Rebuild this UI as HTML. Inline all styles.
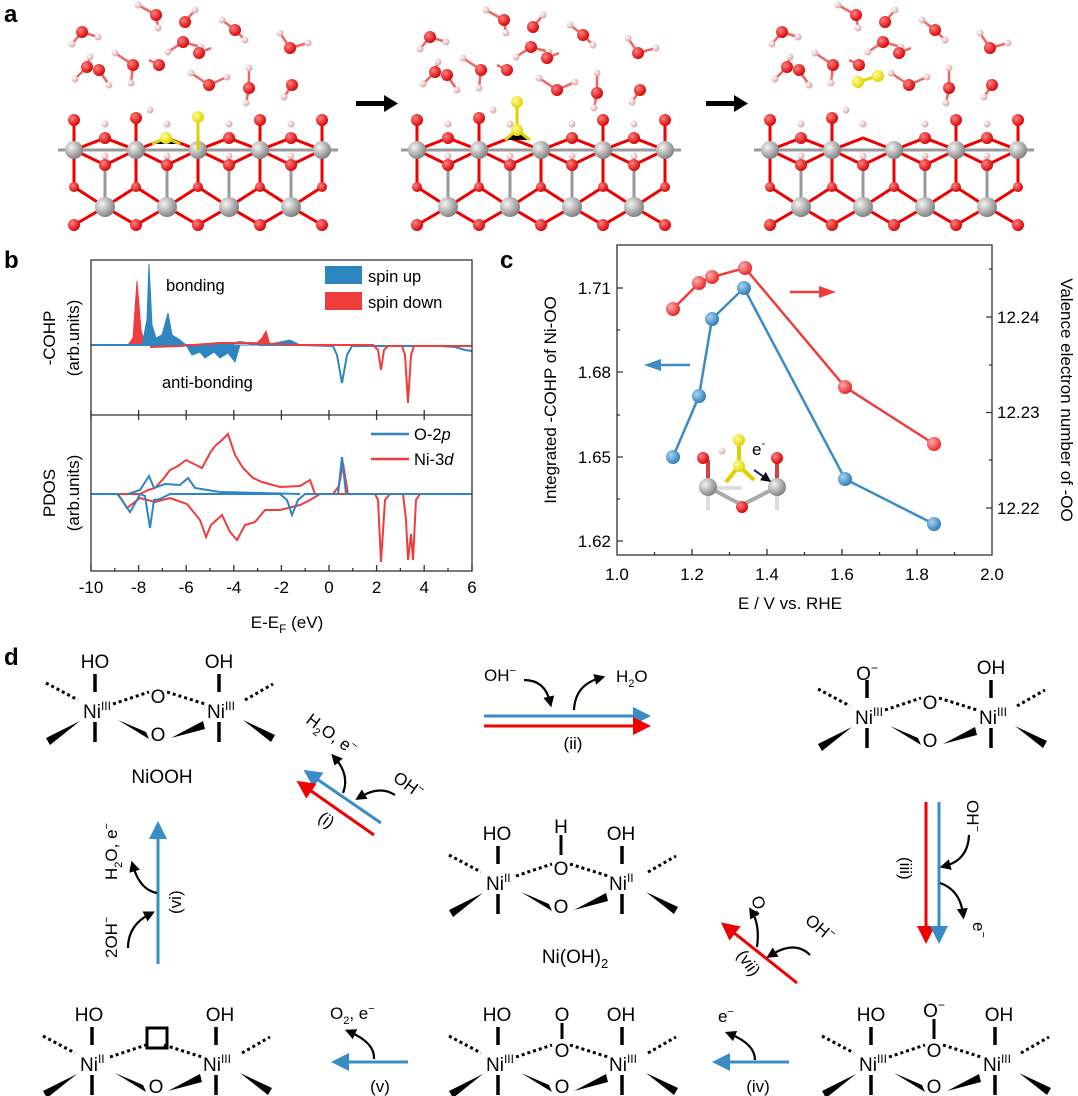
<!DOCTYPE html>
<html><head><meta charset="utf-8"><style>
html,body{margin:0;padding:0;background:#fff}
svg{display:block;font-family:"Liberation Sans",Arial,sans-serif}
</style></head><body>
<svg width="1078" height="1096" viewBox="0 0 1078 1096" xmlns="http://www.w3.org/2000/svg">
<defs>
<radialGradient id="gN" cx="35%" cy="35%" r="70%"><stop offset="0" stop-color="#f4f4f4"/><stop offset="1" stop-color="#7d7d7d"/></radialGradient>
<radialGradient id="gO" cx="35%" cy="35%" r="70%"><stop offset="0" stop-color="#ff8080"/><stop offset="1" stop-color="#d40000"/></radialGradient>
<radialGradient id="gH" cx="35%" cy="35%" r="70%"><stop offset="0" stop-color="#fff"/><stop offset="1" stop-color="#d9a0a0"/></radialGradient>
<radialGradient id="gY" cx="35%" cy="35%" r="70%"><stop offset="0" stop-color="#ffff90"/><stop offset="1" stop-color="#e0d000"/></radialGradient>
<radialGradient id="gB" cx="35%" cy="35%" r="70%"><stop offset="0" stop-color="#a8d4f0"/><stop offset="1" stop-color="#2a7ab8"/></radialGradient>
<radialGradient id="gR" cx="35%" cy="35%" r="70%"><stop offset="0" stop-color="#ffb0b0"/><stop offset="1" stop-color="#e82020"/></radialGradient>
<g id="slab">
 <g stroke="#999" stroke-width="3">
  <line x1="58" y1="150" x2="338" y2="150"/>
  <path d="M74 150 L105 165 L136 150 L167 165 L198 150 L229 165 L260 150 L291 165 L322 150" fill="none" stroke="#e00"/>
  <path d="M74 150 L105 138 L136 150 L167 138 L198 150 L229 138 L260 150 L291 138 L322 150" fill="none" stroke="#e00"/>
  <path d="M74 187 L105 207 L136 187 L167 207 L198 187 L229 207 L260 187 L291 207 L322 187" fill="none" stroke="#e00"/>
  <path d="M74 225 L105 207 L136 225 L167 207 L198 225 L229 207 L260 225 L291 207 L322 225" fill="none" stroke="#e00"/>
  <path d="M74 150 V187 M136 150 V187 M198 150 V187 M260 150 V187 M322 150 V187" stroke="#e00"/>
  <path d="M105 165 V207 M167 165 V207 M229 165 V207 M291 165 V207"/>
  <path d="M74 150 V120 M136 150 V120 M260 150 V120 M322 150 V120" stroke="#e00"/>
 </g>
 <g fill="url(#gH)"><circle cx="105" cy="124" r="3.5"/><circle cx="167" cy="124" r="3.5"/><circle cx="229" cy="124" r="3.5"/><circle cx="291" cy="124" r="3.5"/><circle cx="105" cy="156" r="3.5"/><circle cx="167" cy="156" r="3.5"/><circle cx="229" cy="156" r="3.5"/><circle cx="291" cy="156" r="3.5"/></g>
 <g fill="url(#gO)"><circle cx="74" cy="120" r="6"/><circle cx="136" cy="118" r="6"/><circle cx="260" cy="120" r="6"/><circle cx="322" cy="120" r="6"/>
  <circle cx="105" cy="138" r="6"/><circle cx="229" cy="138" r="6"/><circle cx="291" cy="138" r="6"/>
  <circle cx="105" cy="165" r="6"/><circle cx="167" cy="165" r="6"/><circle cx="229" cy="165" r="6"/><circle cx="291" cy="165" r="6"/>
  <circle cx="74" cy="187" r="5"/><circle cx="136" cy="187" r="5"/><circle cx="198" cy="187" r="5"/><circle cx="260" cy="187" r="5"/><circle cx="322" cy="187" r="5"/>
  <circle cx="74" cy="225" r="6"/><circle cx="136" cy="225" r="6"/><circle cx="198" cy="225" r="6"/><circle cx="260" cy="225" r="6"/><circle cx="322" cy="225" r="6"/></g>
 <g fill="url(#gN)"><circle cx="74" cy="150" r="9"/><circle cx="136" cy="150" r="9"/><circle cx="198" cy="150" r="9"/><circle cx="260" cy="150" r="9"/><circle cx="322" cy="150" r="9"/>
  <circle cx="105" cy="207" r="10"/><circle cx="167" cy="207" r="10"/><circle cx="229" cy="207" r="10"/><circle cx="291" cy="207" r="10"/></g>
 <circle cx="150" cy="110" r="3.5" fill="url(#gH)"/>
</g>
<g id="water">
 <g stroke="#e66" stroke-width="2.5">
  <path d="M82 32 l-10 12 M82 32 l16 5 M156 15 l-18 -10 M156 15 l2 13 M185 22 l10 -12 M183 42 l-15 10 M183 42 l18 5 M199 53 l12 -5 M235 30 l-13 -10 M235 30 l10 10 M290 48 l-10 -15 M290 48 l18 -5 M87 67 l-12 12 M87 67 l3 -10 M99 70 l10 15 M133 65 l-18 -12 M133 65 l-2 18 M159 65 l-10 -5 M209 85 l-18 -12 M209 85 l18 -8 M249 88 l-3 15 M249 88 l0 -20 M292 85 l-8 12"/>
 </g>
 <g fill="url(#gH)"><circle cx="72" cy="44" r="3.5"/><circle cx="98" cy="37" r="3.5"/><circle cx="138" cy="5" r="3.5"/><circle cx="158" cy="28" r="3.5"/><circle cx="195" cy="10" r="3.5"/><circle cx="168" cy="52" r="3.5"/><circle cx="201" cy="47" r="3.5"/><circle cx="222" cy="20" r="3.5"/><circle cx="245" cy="40" r="3.5"/><circle cx="280" cy="33" r="3.5"/><circle cx="308" cy="43" r="3.5"/><circle cx="75" cy="79" r="3.5"/><circle cx="90" cy="57" r="3.5"/><circle cx="109" cy="85" r="3.5"/><circle cx="115" cy="53" r="3.5"/><circle cx="131" cy="83" r="3.5"/><circle cx="191" cy="73" r="3.5"/><circle cx="227" cy="77" r="3.5"/><circle cx="246" cy="103" r="3.5"/><circle cx="249" cy="68" r="3.5"/><circle cx="284" cy="97" r="3.5"/></g>
 <g fill="url(#gO)"><circle cx="82" cy="32" r="6"/><circle cx="156" cy="15" r="6"/><circle cx="185" cy="22" r="6"/><circle cx="183" cy="42" r="6"/><circle cx="199" cy="53" r="6"/><circle cx="235" cy="30" r="6"/><circle cx="290" cy="48" r="6"/><circle cx="87" cy="67" r="6"/><circle cx="99" cy="70" r="6"/><circle cx="133" cy="65" r="6"/><circle cx="159" cy="65" r="6"/><circle cx="209" cy="85" r="6"/><circle cx="249" cy="88" r="6"/><circle cx="292" cy="85" r="6"/></g>
</g>
<g id="dim" fill="#000" stroke="#000">
 <path d="M12 -44 V-26 M12 4 V24 M136 -44 V-26 M136 4 V24" stroke-width="3.5" fill="none"/>
 <path d="M-37 -35 L-5 -18 M30 -14 L66 -26 M84 -26 L122 -14 M162 -18 L190 -34" stroke-width="3" stroke-dasharray="3 3" fill="none"/>
 <path d="M-3 3 L-37 20 L-33 27 Z M35 2 L63 14 L66 21 Z M88 20 L120 3 L122 11 Z M160 2 L192 17 L188 24 Z" stroke="none"/>
</g>
<marker id="aB" markerWidth="6" markerHeight="6" refX="3" refY="3" orient="auto" markerUnits="strokeWidth"><path d="M0 0 L6 3 L0 6 Z" fill="#3a8cc4"/></marker>
<marker id="aR" markerWidth="6" markerHeight="6" refX="3" refY="3" orient="auto" markerUnits="strokeWidth"><path d="M0 0 L6 3 L0 6 Z" fill="#f20000"/></marker>
<marker id="aK" markerWidth="5" markerHeight="5" refX="2.5" refY="2.5" orient="auto" markerUnits="strokeWidth"><path d="M0 0 L5 2.5 L0 5 Z" fill="#000"/></marker>
</defs>

<!-- panel a -->
<text x="4" y="22" font-size="24" font-weight="bold">a</text>
<use href="#slab"/><use href="#water"/>
<use href="#slab" x="343"/><use href="#water" x="348" y="5"/>
<use href="#slab" x="696"/><use href="#water" x="700" y="0"/>
<g stroke="#e0d000" stroke-width="3"><path d="M152 144 L166 138 L180 144 M198 150 V118"/><path d="M505 140 L517 130 L530 140 M517 130 V102"/><path d="M858 82 L878 76"/></g>
<g fill="url(#gY)"><circle cx="166" cy="138" r="6"/><circle cx="198" cy="117" r="6"/><circle cx="517" cy="130" r="6"/><circle cx="517" cy="102" r="6"/><circle cx="858" cy="82" r="6"/><circle cx="878" cy="76" r="6"/></g>
<g fill="#000"><rect x="356" y="101" width="30" height="5"/><path d="M384 95 L398 103.5 L384 112 Z"/><rect x="706" y="101" width="30" height="5"/><path d="M734 95 L748 103.5 L734 112 Z"/></g>

<!-- panel b -->
<text x="4" y="268" font-size="24" font-weight="bold">b</text>
<g font-size="16.5">
<text x="166" y="291">bonding</text>
<text x="162" y="388">anti-bonding</text>
<rect x="325" y="266" width="37" height="18" fill="#2e86c1"/><text x="368" y="282">spin up</text>
<rect x="325" y="292" width="37" height="18" fill="#f03c3c"/><text x="368" y="308">spin down</text>
<line x1="371" y1="434" x2="409" y2="434" stroke="#2e86c1" stroke-width="2.5"/><text x="414" y="440">O-2<tspan font-style="italic">p</tspan></text>
<line x1="371" y1="459" x2="409" y2="459" stroke="#f03c3c" stroke-width="2.5"/><text x="414" y="465">Ni-3<tspan font-style="italic">d</tspan></text>
</g>
<path d="M91 345 H128 L133 338 L137 281 L141 330 L145 345 Z" fill="#f03c3c" stroke="#f03c3c"/>
<path d="M142 345 L147 320 L149 264 L152 325 L156 338 L162 335 L168 313 L172 335 L180 340 L186 345 L192 355 L200 352 L205 358 L214 352 L220 358 L228 353 L235 362 L240 345 L262 345 L270 344 L290 340 L300 345 Z" fill="#2e86c1" stroke="#2e86c1"/>
<path d="M255 345 L262 338 L266 331 L270 345 Z" fill="#f03c3c" stroke="#f03c3c"/>
<path d="M91 345 H225 L240 342 L260 345 L300 345 L333 346 L337 355 L342 383 L347 355 L352 346 H440 L455 347 L465 350 L472 351" fill="none" stroke="#2e86c1" stroke-width="2"/>
<path d="M150 347 L180 346 L220 343 L250 343 L300 345 H373 L378 350 L381 370 L384 350 L388 346 H402 L405 355 L408 403 L411 355 L414 346 H472" fill="none" stroke="#f03c3c" stroke-width="2"/>
<path d="M91 494 H140 L148 490 L155 488 L164 478 L170 470 L178 466 L186 460 L194 464 L202 468 L210 453 L215 446 L222 440 L228 434 L230 440 L235 455 L243 468 L253 478 L262 482 L280 487 L300 486 L310 480 L315 494 H333 L339 486 L343 463 L348 494 H472" fill="none" stroke="#f03c3c" stroke-width="2"/>
<path d="M91 494 H117 L122 500 L127 508 L140 498 L155 502 L170 498 L187 504 L200 520 L206 537 L211 525 L222 515 L230 532 L237 540 L245 525 L255 522 L265 510 L280 510 L300 505 L310 500 L320 494 H375 L378 500 L381 562 L385 500 L390 494 H403 L406 520 L408 560 L411 534 L413 560 L416 500 L420 494 H472" fill="none" stroke="#f03c3c" stroke-width="2"/>
<path d="M91 494 H118 L125 505 L130 512 L137 500 L140 494 L145 496 L150 528 L154 500 L160 499 L170 494 L200 494 L280 494 L287 500 L292 515 L298 500 L305 494 H330 L338 494 L342 457 L346 494 H472" fill="none" stroke="#2e86c1" stroke-width="2"/>
<path d="M128 494 L140 490 L149 476 L154 488 L165 484 L180 485 L188 478 L195 488 L220 492 L300 494" fill="none" stroke="#2e86c1" stroke-width="2"/>
<g stroke="#333" stroke-width="1.3" fill="none"><rect x="91" y="260" width="381" height="311"/><line x1="91" y1="415" x2="472" y2="415"/></g>
<g stroke="#333" stroke-width="1.3">
<path d="M91 571 v-6 M138.6 571 v-6 M186.2 571 v-6 M233.8 571 v-6 M281.4 571 v-6 M329 571 v-6 M376.6 571 v-6 M424.2 571 v-6 M472 571 v-6"/>
<path d="M114.8 571 v-3 M162.4 571 v-3 M210 571 v-3 M257.6 571 v-3 M305.2 571 v-3 M352.8 571 v-3 M400.4 571 v-3 M448 571 v-3"/>
<path d="M91 415 v-5 M138.6 415 v-5 M186.2 415 v-5 M233.8 415 v-5 M281.4 415 v-5 M329 415 v-5 M376.6 415 v-5 M424.2 415 v-5 M91 415 v5 M138.6 415 v5 M186.2 415 v5 M233.8 415 v5 M281.4 415 v5 M329 415 v5 M376.6 415 v5 M424.2 415 v5"/>
</g>
<g font-size="17" text-anchor="middle">
<text x="91" y="593">-10</text><text x="138.6" y="593">-8</text><text x="186.2" y="593">-6</text><text x="233.8" y="593">-4</text><text x="281.4" y="593">-2</text><text x="329" y="593">0</text><text x="376.6" y="593">2</text><text x="424.2" y="593">4</text><text x="472" y="593">6</text>
<text x="287" y="628">E-E<tspan font-size="12" dy="5">F</tspan><tspan dy="-5"> (eV)</tspan></text>
<text transform="translate(55,338) rotate(-90)">-COHP</text>
<text transform="translate(79,338) rotate(-90)">(arb.units)</text>
<text transform="translate(55,493) rotate(-90)">PDOS</text>
<text transform="translate(79,493) rotate(-90)">(arb.units)</text>
</g>

<!-- panel c -->
<text x="500" y="268" font-size="24" font-weight="bold">c</text>
<rect x="617" y="245" width="375" height="310" fill="none" stroke="#333" stroke-width="1.3"/>
<g stroke="#333" stroke-width="1.3">
<path d="M617 288 h6 M617 372 h6 M617 457 h6 M617 541 h6 M617 330 h3 M617 415 h3 M617 499 h3"/>
<path d="M992 317 h-6 M992 412.5 h-6 M992 508 h-6 M992 269 h-3 M992 365 h-3 M992 460 h-3"/>
<path d="M692 555 v-6 M767 555 v-6 M842 555 v-6 M917 555 v-6 M654.5 555 v-3 M729.5 555 v-3 M804.5 555 v-3 M879.5 555 v-3 M954.5 555 v-3"/>
</g>
<g font-size="17">
<g text-anchor="end"><text x="611" y="294">1.71</text><text x="611" y="378">1.68</text><text x="611" y="463">1.65</text><text x="611" y="547">1.62</text></g>
<text x="997" y="323">12.24</text><text x="997" y="418">12.23</text><text x="997" y="514">12.22</text>
<g text-anchor="middle"><text x="617" y="580">1.0</text><text x="692" y="580">1.2</text><text x="767" y="580">1.4</text><text x="842" y="580">1.6</text><text x="917" y="580">1.8</text><text x="992" y="580">2.0</text>
<text x="790" y="609">E / V vs. RHE</text>
<text transform="translate(556,400) rotate(-90)">Integrated -COHP of Ni-OO</text>
<text transform="translate(1061,400) rotate(90)">Valence electron number of -OO</text></g>
</g>
<g stroke-width="4" fill="none"><path d="M704 488 L742 488" stroke="#ddd"/><path d="M708 487 L742 505 L777 487" stroke="#aaa"/><path d="M708 487 V460 M777 487 V458" stroke="#c44"/><path d="M739 466 L726 482 M739 466 L754 480 M739 440 V466" stroke="#e0d000"/><path d="M708 487 V510 M777 487 V510" stroke="#ddd"/></g>
<g fill="url(#gN)"><circle cx="708" cy="487" r="9"/><circle cx="777" cy="487" r="9"/></g>
<g fill="url(#gO)"><circle cx="703" cy="458" r="6"/><circle cx="777" cy="458" r="6"/><circle cx="742" cy="507" r="6"/></g>
<circle cx="722" cy="451" r="3.5" fill="url(#gH)"/>
<g fill="url(#gY)"><circle cx="739" cy="440" r="6"/><circle cx="739" cy="466" r="6"/></g>
<text x="752" y="455" font-size="17">e<tspan font-size="11" dy="-8">-</tspan></text>
<path d="M754 470 L767 479" stroke="#1a2a4a" stroke-width="2" marker-end="url(#aK)"/>
<polyline points="673,457 699,396 712,319 744,288 845,479 934,524" fill="none" stroke="#3a8cc4" stroke-width="2.5"/>
<polyline points="673,309 699,283 712,277 745,268 845,387 934,444" fill="none" stroke="#f03c3c" stroke-width="2.5"/>
<g fill="url(#gB)"><circle cx="673" cy="457" r="7"/><circle cx="699" cy="396" r="7"/><circle cx="712" cy="319" r="7"/><circle cx="744" cy="288" r="7"/><circle cx="845" cy="479" r="7"/><circle cx="934" cy="524" r="7"/></g>
<g fill="url(#gR)"><circle cx="673" cy="309" r="7"/><circle cx="699" cy="283" r="7"/><circle cx="712" cy="277" r="7"/><circle cx="745" cy="268" r="7"/><circle cx="845" cy="387" r="7"/><circle cx="934" cy="444" r="7"/></g>
<path d="M790 292 H825" stroke="#f03c3c" stroke-width="2.5"/><path d="M819 286 L836 292 L819 298 Z" fill="#f03c3c"/>
<path d="M690 365 H655" stroke="#3a8cc4" stroke-width="2.5"/><path d="M661 359 L644 365 L661 371 Z" fill="#3a8cc4"/>

<!-- panel d -->
<text x="4" y="665" font-size="24" font-weight="bold">d</text>
<use href="#dim" x="83" y="718"/>
<use href="#dim" x="855" y="724"/>
<use href="#dim" x="486" y="890"/>
<use href="#dim" x="80" y="1071"/>
<use href="#dim" x="486" y="1071"/>
<use href="#dim" x="859" y="1071"/>
<g font-size="19">
<text x="83" y="718">Ni<tspan font-size="12" dy="-8">III</tspan></text><text x="207" y="718">Ni<tspan font-size="12" dy="-8">III</tspan></text>
<text x="95" y="668" text-anchor="middle">HO</text><text x="219" y="668" text-anchor="middle">OH</text>
<text x="158" y="703" text-anchor="middle">O</text><text x="158" y="741" text-anchor="middle">O</text>
<text x="162" y="783" text-anchor="middle">NiOOH</text>
<text x="855" y="724">Ni<tspan font-size="12" dy="-8">III</tspan></text><text x="979" y="724">Ni<tspan font-size="12" dy="-8">III</tspan></text>
<text x="867" y="680" text-anchor="middle">O<tspan font-size="12" dy="-8">−</tspan></text><text x="991" y="674" text-anchor="middle">OH</text>
<text x="930" y="709" text-anchor="middle">O</text><text x="930" y="747" text-anchor="middle">O</text>
<text x="486" y="890">Ni<tspan font-size="12" dy="-8">II</tspan></text><text x="609" y="890">Ni<tspan font-size="12" dy="-8">II</tspan></text>
<text x="497" y="840" text-anchor="middle">HO</text><text x="621" y="840" text-anchor="middle">OH</text>
<text x="561" y="875" text-anchor="middle">O</text><text x="561" y="913" text-anchor="middle">O</text>
<text x="561" y="833" text-anchor="middle">H</text>
<path d="M561 835 V855" stroke="#000" stroke-width="3"/>
<text x="575" y="963" text-anchor="middle">Ni(OH)<tspan font-size="13" dy="5">2</tspan></text>
<text x="80" y="1071">Ni<tspan font-size="12" dy="-8">II</tspan></text><text x="203" y="1071">Ni<tspan font-size="12" dy="-8">III</tspan></text>
<text x="89" y="1021" text-anchor="middle">HO</text><text x="220" y="1021" text-anchor="middle">OH</text>
<text x="156" y="1093" text-anchor="middle">O</text>
<rect x="147" y="1028" width="20" height="20" fill="none" stroke="#000" stroke-width="3"/>
<text x="486" y="1071">Ni<tspan font-size="12" dy="-8">III</tspan></text><text x="609" y="1071">Ni<tspan font-size="12" dy="-8">III</tspan></text>
<text x="497" y="1021" text-anchor="middle">HO</text><text x="621" y="1021" text-anchor="middle">OH</text>
<text x="562" y="1057" text-anchor="middle">O</text><text x="562" y="1093" text-anchor="middle">O</text>
<text x="562" y="1021" text-anchor="middle">O</text>
<path d="M562 1023 V1039" stroke="#000" stroke-width="3"/>
<text x="859" y="1071">Ni<tspan font-size="12" dy="-8">III</tspan></text><text x="983" y="1071">Ni<tspan font-size="12" dy="-8">III</tspan></text>
<text x="871" y="1021" text-anchor="middle">HO</text><text x="999" y="1021" text-anchor="middle">OH</text>
<text x="934" y="1057" text-anchor="middle">O</text><text x="934" y="1093" text-anchor="middle">O</text>
<text x="934" y="1017" text-anchor="middle">O<tspan font-size="12" dy="-8">−</tspan></text>
<path d="M934 1019 V1039" stroke="#000" stroke-width="3"/>
</g>
<g stroke-width="3" fill="none">
<path d="M484 716 H642" stroke="#3a8cc4" marker-end="url(#aB)"/>
<path d="M484 726 H642" stroke="#f20000" marker-end="url(#aR)"/>
<path d="M381 823 L311 775" stroke="#3a8cc4" marker-end="url(#aB)"/>
<path d="M374 835 L304 786" stroke="#f20000" marker-end="url(#aR)"/>
<path d="M158 964 V830" stroke="#3a8cc4" marker-end="url(#aB)"/>
<path d="M926 802 V935" stroke="#f20000" marker-end="url(#aR)"/>
<path d="M939 802 V935" stroke="#3a8cc4" marker-end="url(#aB)"/>
<path d="M797 983 L728 928" stroke="#f20000" marker-end="url(#aR)"/>
<path d="M408 1062 H340" stroke="#3a8cc4" marker-end="url(#aB)"/>
<path d="M789 1062 H721" stroke="#3a8cc4" marker-end="url(#aB)"/>
</g>
<g stroke="#000" stroke-width="2.2" fill="none">
<path d="M524 680 Q545 680 550 702" marker-end="url(#aK)"/>
<path d="M574 710 Q575 685 600 678" marker-end="url(#aK)"/>
<path d="M343 793 Q350 775 335 758" marker-end="url(#aK)"/>
<path d="M395 795 Q380 785 360 797" marker-end="url(#aK)"/>
<path d="M157 893 Q140 890 133 866" marker-end="url(#aK)"/>
<path d="M128 948 Q128 925 150 914" marker-end="url(#aK)"/>
<path d="M969 835 Q968 860 945 866" marker-end="url(#aK)"/>
<path d="M940 883 Q960 890 963 914" marker-end="url(#aK)"/>
<path d="M757 947 Q760 925 752 912" marker-end="url(#aK)"/>
<path d="M810 955 Q795 940 771 955" marker-end="url(#aK)"/>
<path d="M374 1059 Q375 1043 350 1032" marker-end="url(#aK)"/>
<path d="M755 1060 Q755 1044 730 1034" marker-end="url(#aK)"/>
</g>
<g font-size="17">
<text x="484" y="681">OH<tspan font-size="11" dy="-7">−</tspan></text>
<text x="616" y="682">H<tspan font-size="11" dy="5">2</tspan><tspan dy="-5">O</tspan></text>
<text x="573" y="749" text-anchor="middle">(ii)</text>
<text transform="translate(305,722) rotate(36)">H<tspan font-size="11" dy="5">2</tspan><tspan dy="-5">O, e</tspan><tspan font-size="11" dy="-7">−</tspan></text>
<text transform="translate(392,780) rotate(36)">OH<tspan font-size="11" dy="-7">−</tspan></text>
<text transform="translate(317,820) rotate(36)">(i)</text>
<text transform="translate(117,880) rotate(-90)">H<tspan font-size="11" dy="5">2</tspan><tspan dy="-5">O, e</tspan><tspan font-size="11" dy="-7">−</tspan></text>
<text transform="translate(117,958) rotate(-90)">2OH<tspan font-size="11" dy="-7">−</tspan></text>
<text transform="translate(181,914) rotate(-90)">(vi)</text>
<text transform="translate(967,800) rotate(90)">OH<tspan font-size="11" dy="-7">−</tspan></text>
<text transform="translate(900,857) rotate(90)">(iii)</text>
<text transform="translate(973,922) rotate(90)">e<tspan font-size="11" dy="-7">−</tspan></text>
<text transform="translate(751,898) rotate(72)">O<tspan font-size="11" dy="5">2</tspan></text>
<text transform="translate(804,922) rotate(40)">OH<tspan font-size="11" dy="-7">−</tspan></text>
<text transform="translate(736,955) rotate(55)">(vii)</text>
<text x="330" y="1019">O<tspan font-size="11" dy="5">2</tspan><tspan dy="-5">, e</tspan><tspan font-size="11" dy="-7">−</tspan></text>
<text x="380" y="1092" text-anchor="middle">(v)</text>
<text x="718" y="1022">e<tspan font-size="11" dy="-7">−</tspan></text>
<text x="758" y="1092" text-anchor="middle">(iv)</text>
</g>
</svg>
</body></html>
